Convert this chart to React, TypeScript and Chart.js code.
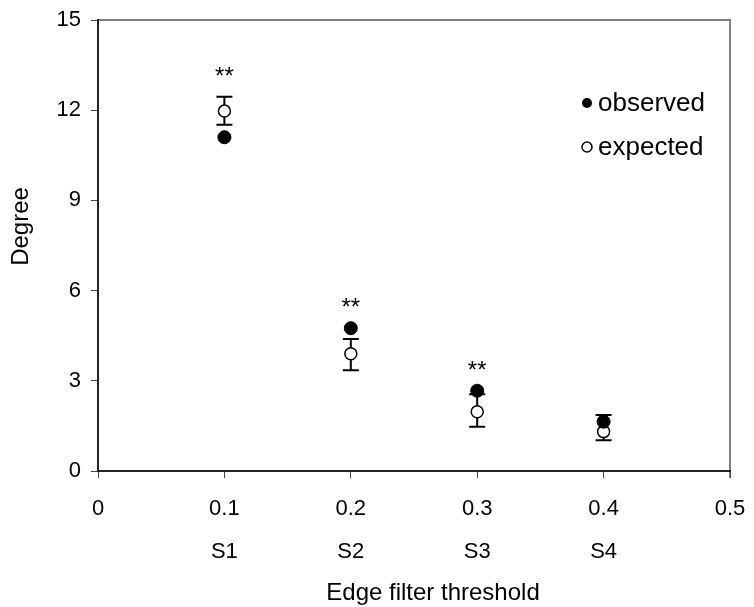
import React, { useEffect, useRef } from "react";
import { Chart, registerables } from "chart.js";

Chart.register(...registerables);

// ---- data ----
const thresholds = [0.1, 0.2, 0.3, 0.4];
const sampleLabels = ["S1", "S2", "S3", "S4"];
const observed = [11.1, 4.75, 2.67, 1.64];
const expected = [11.97, 3.9, 1.97, 1.31];
const expectedUpper = [12.45, 4.39, 2.55, 1.86];
const expectedLower = [11.52, 3.35, 1.47, 1.02];
const significance = ["**", "**", "**", ""];
const xMin = 0;
const xMax = 0.5;
const xStep = 0.1;
const yMin = 0;
const yMax = 15;
const yStep = 3;
const xTitle = "Edge filter threshold";
const yTitle = "Degree";
const legendLabels = ["observed", "expected"];

const FONT = "'Liberation Sans', Arial, Helvetica, sans-serif";

const errorBarPlugin = {
  id: "errorBars",
  beforeDatasetsDraw(chart: any) {
    const { ctx, scales } = chart;
    const x = scales.x;
    const y = scales.y;
    ctx.save();
    ctx.strokeStyle = "#000";
    ctx.lineWidth = 2;
    thresholds.forEach((t, i) => {
      const px = x.getPixelForValue(t);
      const top = y.getPixelForValue(expectedUpper[i]);
      const bot = y.getPixelForValue(expectedLower[i]);
      ctx.beginPath();
      ctx.moveTo(px, top);
      ctx.lineTo(px, bot);
      ctx.moveTo(px - 8, top);
      ctx.lineTo(px + 8, top);
      ctx.moveTo(px - 8, bot);
      ctx.lineTo(px + 8, bot);
      ctx.stroke();
    });
    ctx.restore();
  },
};

const decorPlugin = {
  id: "decor",
  beforeDraw(chart: any) {
    const { ctx, chartArea } = chart;
    ctx.save();
    ctx.fillStyle = "#fff";
    ctx.fillRect(0, 0, chart.width, chart.height);
    ctx.strokeStyle = "#808080";
    ctx.lineWidth = 2;
    ctx.beginPath();
    ctx.moveTo(chartArea.left, chartArea.top);
    ctx.lineTo(chartArea.right, chartArea.top);
    ctx.lineTo(chartArea.right, chartArea.bottom + 7);
    ctx.stroke();
    ctx.restore();
  },
  afterDatasetsDraw(chart: any) {
    const { ctx, scales, chartArea } = chart;
    const x = scales.x;
    const y = scales.y;
    ctx.save();
    ctx.fillStyle = "#000";
    ctx.font = `24px ${FONT}`;
    ctx.textAlign = "center";
    ctx.textBaseline = "alphabetic";
    thresholds.forEach((t, i) => {
      if (!significance[i]) return;
      const px = x.getPixelForValue(t);
      const topPx = Math.min(
        y.getPixelForValue(observed[i]),
        y.getPixelForValue(expectedUpper[i])
      );
      ctx.fillText(significance[i], px, topPx - 13);
    });

    // legend
    const lx = chartArea.left + 489;
    const ly = chartArea.top + 83;
    ctx.font = `26px ${FONT}`;
    ctx.textAlign = "left";
    ctx.textBaseline = "middle";
    legendLabels.forEach((lab, i) => {
      const cy = ly + i * 44;
      ctx.beginPath();
      ctx.arc(lx, cy, 5, 0, Math.PI * 2);
      if (i === 0) {
        ctx.fillStyle = "#000";
        ctx.fill();
      } else {
        ctx.fillStyle = "#fff";
        ctx.fill();
        ctx.strokeStyle = "#000";
        ctx.lineWidth = 1.5;
        ctx.stroke();
      }
      ctx.fillStyle = "#000";
      ctx.fillText(lab, lx + 11, cy + 1);
    });

    // axis titles
    ctx.font = `24px ${FONT}`;
    ctx.textAlign = "center";
    ctx.textBaseline = "middle";
    ctx.fillText(xTitle, (chartArea.left + chartArea.right) / 2 + 19, chart.height - 14);
    ctx.save();
    ctx.translate(21, (chartArea.top + chartArea.bottom) / 2 - 19);
    ctx.rotate(-Math.PI / 2);
    ctx.fillText(yTitle, 0, 0);
    ctx.restore();
    ctx.restore();
  },
};

export default function App() {
  const ref = useRef<HTMLCanvasElement>(null);
  useEffect(() => {
    if (!ref.current) return;
    const chart = new Chart(ref.current, {
      type: "scatter",
      data: {
        datasets: [
          {
            label: legendLabels[0],
            data: thresholds.map((t, i) => ({ x: t, y: observed[i] })),
            pointRadius: 6.5,
            pointBackgroundColor: "#000",
            pointBorderColor: "#000",
            pointBorderWidth: 1,
          },
          {
            label: legendLabels[1],
            data: thresholds.map((t, i) => ({ x: t, y: expected[i] })),
            pointRadius: 6,
            pointBackgroundColor: "#fff",
            pointBorderColor: "#000",
            pointBorderWidth: 1.5,
          },
        ],
      },
      options: {
        animation: false,
        responsive: false,
        maintainAspectRatio: false,
        layout: { padding: { top: 20, right: 24, left: 0, bottom: 0 } },
        plugins: {
          legend: { display: false },
          tooltip: { enabled: false },
        },
        scales: {
          x: {
            type: "linear",
            min: xMin,
            max: xMax,
            afterFit(scale: any) {
              scale.height = 136;
              scale.paddingLeft = 0;
              scale.paddingRight = 0;
            },
            afterBuildTicks(scale: any) {
              const ticks = [];
              for (let v = xMin; v <= xMax + 1e-9; v += xStep) {
                ticks.push({ value: Math.round(v * 10) / 10 });
              }
              scale.ticks = ticks;
            },
            ticks: {
              color: "#000",
              padding: 9,
              font: { family: FONT, size: 22, lineHeight: "43px" },
              maxRotation: 0,
              autoSkip: false,
              callback: (v: any) => {
                const r = Math.round(Number(v) * 10) / 10;
                const idx = thresholds.indexOf(r);
                const txt = String(r);
                return idx >= 0 ? [txt, sampleLabels[idx]] : txt;
              },
            },
            grid: {
              drawOnChartArea: false,
              drawTicks: true,
              tickLength: 7,
              tickColor: "#444",
              tickWidth: 1,
            },
            border: { display: true, color: "#222", width: 2 },
          },
          y: {
            type: "linear",
            min: yMin,
            max: yMax,
            afterFit(scale: any) {
              scale.width = 98;
              scale.paddingTop = 0;
              scale.paddingBottom = 0;
            },
            ticks: {
              stepSize: yStep,
              color: "#000",
              padding: 10,
              font: { family: FONT, size: 22 },
            },
            grid: {
              drawOnChartArea: false,
              drawTicks: true,
              tickLength: 7,
              tickColor: "#444",
              tickWidth: 1,
            },
            border: { display: true, color: "#222", width: 2 },
          },
        },
      },
      plugins: [errorBarPlugin, decorPlugin],
    } as any);
    return () => chart.destroy();
  }, []);
  return (
    <div style={{ position: "absolute", left: 0, top: 0, width: 754, height: 607 }}>
      <canvas ref={ref} width={754} height={607} style={{ display: "block" }} />
    </div>
  );
}
